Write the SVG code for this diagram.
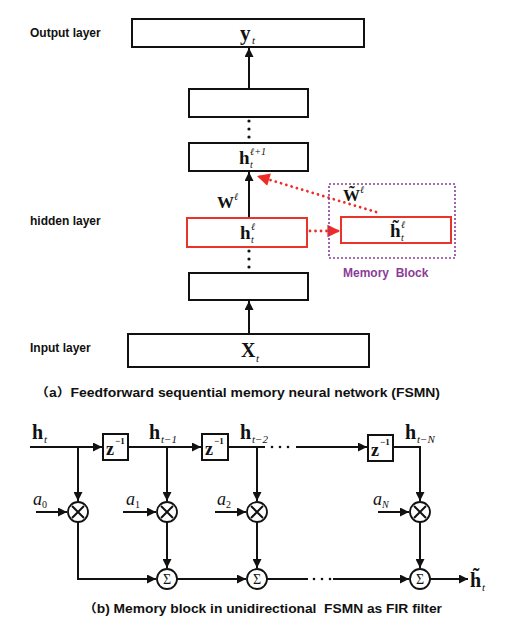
<svg xmlns="http://www.w3.org/2000/svg" width="507" height="634" viewBox="0 0 507 634">
<defs>
<style>
.lbl{font-family:"Liberation Sans","Noto Sans CJK SC",Arial,sans-serif;font-weight:bold;font-size:12px;fill:#111}
.m{font-family:"Liberation Serif","DejaVu Serif",serif;font-weight:bold;fill:#111}
.mi{font-family:"Liberation Serif","DejaVu Serif",serif;font-style:italic;fill:#111}
.s{font-family:"Liberation Serif","DejaVu Serif",serif;fill:#111}
.box{fill:#fff;stroke:#111;stroke-width:2}
.rbox{fill:#fff;stroke:#e8352b;stroke-width:2}
.ln{fill:none;stroke:#111;stroke-width:2}
.rd{fill:none;stroke:#ee2b25;stroke-width:2.8;stroke-dasharray:0.01 5.5;stroke-linecap:round}
.pd{fill:none;stroke:#8a3c98;stroke-width:1.6;stroke-dasharray:2 2}
.op{fill:#fff;stroke:#111;stroke-width:1.8}
.purple{fill:#8a3c98}
</style>
<marker id="ah" viewBox="0 0 10 10" refX="10" refY="5" markerWidth="5" markerHeight="4.5" markerUnits="strokeWidth" orient="auto">
<path d="M0,0 L10,5 L0,10 z" fill="#111"/>
</marker>
<marker id="rh" viewBox="0 0 10 10" refX="10" refY="5" markerWidth="5" markerHeight="4.5" markerUnits="strokeWidth" orient="auto">
<path d="M0,0 L10,5 L0,10 z" fill="#ee2b25"/>
</marker>
</defs>
<rect width="507" height="634" fill="#fff"/>

<g id="labels-a">
<text class="lbl" x="30" y="37">Output layer</text>
<text class="lbl" x="30" y="225">hidden layer</text>
<text class="lbl" x="30" y="352">Input layer</text>
<text class="lbl" x="35" y="397" font-size="13.5" textLength="405" lengthAdjust="spacingAndGlyphs">（a）Feedforward sequential memory neural network (FSMN)</text>
</g>

<g id="connectors-a">
<line class="ln" x1="249" y1="89" x2="249" y2="48" marker-end="url(#ah)"/>
<line class="ln" x1="249" y1="218" x2="249" y2="172" marker-end="url(#ah)"/>
<line class="ln" x1="249" y1="334" x2="249" y2="301" marker-end="url(#ah)"/>
<g fill="#111">
<circle cx="249" cy="121" r="1.6"/><circle cx="249" cy="129" r="1.6"/><circle cx="249" cy="137" r="1.6"/>
<circle cx="249" cy="251" r="1.6"/><circle cx="249" cy="259" r="1.6"/><circle cx="249" cy="267" r="1.6"/>
</g>
<line class="rd" x1="310" y1="231" x2="340" y2="231" marker-end="url(#rh)"/>
<line class="rd" x1="376" y1="212" x2="257" y2="176" marker-end="url(#rh)"/>
<text class="m" x="217" y="208" font-size="17">W</text><text class="mi" x="234" y="200" font-size="10">ℓ</text>
</g>

<g id="node-output">
<rect class="box" x="132" y="19" width="232" height="28"/>
<text class="m" x="240" y="40" font-size="21">y</text><text class="mi" x="252" y="44" font-size="11">t</text>
</g>
<g id="node-hidden-top">
<rect class="box" x="189" y="89" width="119" height="28"/>
</g>
<g id="node-h-next">
<rect class="box" x="189" y="143" width="119" height="28"/>
<text class="m" x="239" y="164" font-size="19">h</text><text class="mi" x="250" y="168" font-size="10">t</text><text class="mi" x="250" y="155" font-size="10">ℓ+1</text>
</g>
<g id="node-h">
<rect class="rbox" x="187" y="218" width="120" height="29"/>
<text class="m" x="240" y="239" font-size="19">h</text><text class="mi" x="251" y="243" font-size="10">t</text><text class="mi" x="251" y="230" font-size="10">ℓ</text>
</g>
<g id="node-hidden-low">
<rect class="box" x="189" y="273" width="119" height="27"/>
</g>
<g id="node-input">
<rect class="box" x="128" y="334" width="241" height="33"/>
<text class="m" x="241" y="357" font-size="20">X</text><text class="mi" x="256" y="362" font-size="11">t</text>
</g>
<g id="memory-block">
<rect class="pd" x="329" y="184" width="126" height="74"/>
<rect class="rbox" x="341" y="217" width="110" height="26"/>
<text class="m" x="390" y="237" font-size="19">h&#771;</text><text class="mi" x="401" y="241" font-size="10">t</text><text class="mi" x="401" y="228" font-size="10">ℓ</text>
<text class="m" x="343" y="201" font-size="17">W&#771;</text><text class="mi" x="360" y="193" font-size="10">ℓ</text>
<text class="lbl purple" x="343" y="277" font-size="13" style="fill:#8a3c98;white-space:pre">Memory  Block</text>
</g>

<g id="connectors-b">
<polyline class="ln" points="30,447 102,447" marker-end="url(#ah)"/>
<polyline class="ln" points="128,447 201,447" marker-end="url(#ah)"/>
<line class="ln" x1="228" y1="447" x2="265" y2="447"/>
<line class="ln" x1="296" y1="447" x2="367" y2="447" marker-end="url(#ah)"/>
<polyline class="ln" points="393,447 420,447 420,501" marker-end="url(#ah)"/>
<line class="ln" x1="78" y1="447" x2="78" y2="501" marker-end="url(#ah)"/>
<line class="ln" x1="167" y1="447" x2="167" y2="501" marker-end="url(#ah)"/>
<line class="ln" x1="257" y1="447" x2="257" y2="501" marker-end="url(#ah)"/>
<line class="ln" x1="36" y1="512" x2="67" y2="512" marker-end="url(#ah)"/>
<line class="ln" x1="123" y1="512" x2="156" y2="512" marker-end="url(#ah)"/>
<line class="ln" x1="215" y1="512" x2="246" y2="512" marker-end="url(#ah)"/>
<line class="ln" x1="378" y1="512" x2="409" y2="512" marker-end="url(#ah)"/>
<line class="ln" x1="167" y1="522" x2="167" y2="568" marker-end="url(#ah)"/>
<line class="ln" x1="257" y1="522" x2="257" y2="568" marker-end="url(#ah)"/>
<line class="ln" x1="420" y1="522" x2="420" y2="568" marker-end="url(#ah)"/>
<polyline class="ln" points="78,522 78,579 156,579" marker-end="url(#ah)"/>
<line class="ln" x1="177" y1="579" x2="246" y2="579" marker-end="url(#ah)"/>
<line class="ln" x1="267" y1="579" x2="308" y2="579"/>
<line class="ln" x1="333" y1="579" x2="409" y2="579" marker-end="url(#ah)"/>
<line class="ln" x1="430" y1="579" x2="468" y2="579" marker-end="url(#ah)"/>
<g fill="#111">
<circle cx="272" cy="447" r="1.3"/><circle cx="280" cy="447" r="1.3"/><circle cx="288" cy="447" r="1.3"/>
<circle cx="314" cy="579" r="1.3"/><circle cx="322" cy="579" r="1.3"/><circle cx="330" cy="579" r="1.3"/>
</g>
</g>

<g id="delays">
<rect class="box" x="103" y="434" width="25" height="26"/>
<text class="m" x="106" y="455" font-size="18">z</text><text class="m" x="115" y="444" font-size="9">−1</text>
<rect class="box" x="202" y="434" width="26" height="26"/>
<text class="m" x="205" y="455" font-size="18">z</text><text class="m" x="214" y="444" font-size="9">−1</text>
<rect class="box" x="368" y="435" width="25" height="26"/>
<text class="m" x="371" y="456" font-size="18">z</text><text class="m" x="380" y="445" font-size="9">−1</text>
</g>

<g id="multipliers">
<g transform="translate(78,512)"><circle class="op" r="10"/><path class="ln" stroke-width="1.8" d="M-6,-6 L6,6 M-6,6 L6,-6"/></g>
<g transform="translate(167,512)"><circle class="op" r="10"/><path class="ln" stroke-width="1.8" d="M-6,-6 L6,6 M-6,6 L6,-6"/></g>
<g transform="translate(257,512)"><circle class="op" r="10"/><path class="ln" stroke-width="1.8" d="M-6,-6 L6,6 M-6,6 L6,-6"/></g>
<g transform="translate(420,512)"><circle class="op" r="10"/><path class="ln" stroke-width="1.8" d="M-6,-6 L6,6 M-6,6 L6,-6"/></g>
</g>

<g id="summers">
<circle class="op" cx="167" cy="579" r="10"/><text class="s" x="167" y="584" font-size="14" text-anchor="middle">Σ</text>
<circle class="op" cx="257" cy="579" r="10"/><text class="s" x="257" y="584" font-size="14" text-anchor="middle">Σ</text>
<circle class="op" cx="420" cy="579" r="10"/><text class="s" x="420" y="584" font-size="14" text-anchor="middle">Σ</text>
</g>

<g id="labels-b">
<text class="m" x="32" y="439" font-size="20">h</text><text class="mi" x="44" y="443" font-size="11">t</text>
<text class="m" x="149" y="439" font-size="20">h</text><text class="mi" x="161" y="443" font-size="11">t−1</text>
<text class="m" x="240" y="439" font-size="20">h</text><text class="mi" x="252" y="443" font-size="11">t−2</text>
<text class="m" x="405" y="439" font-size="20">h</text><text class="mi" x="417" y="443" font-size="11">t−N</text>
<text class="mi" x="33" y="505" font-size="18">a</text><text class="s" x="42" y="508" font-size="10">0</text>
<text class="mi" x="126" y="505" font-size="18">a</text><text class="s" x="135" y="508" font-size="10">1</text>
<text class="mi" x="217" y="505" font-size="18">a</text><text class="s" x="226" y="508" font-size="10">2</text>
<text class="mi" x="373" y="505" font-size="18">a</text><text class="mi" x="382" y="508" font-size="10">N</text>
<text class="m" x="470" y="587" font-size="20">h&#771;</text><text class="mi" x="482" y="591" font-size="11">t</text>
<text class="lbl" x="83" y="613" font-size="13.5" textLength="359" lengthAdjust="spacingAndGlyphs" style="white-space:pre">（b) Memory block in unidirectional  FSMN as FIR filter</text>
</g>
</svg>
